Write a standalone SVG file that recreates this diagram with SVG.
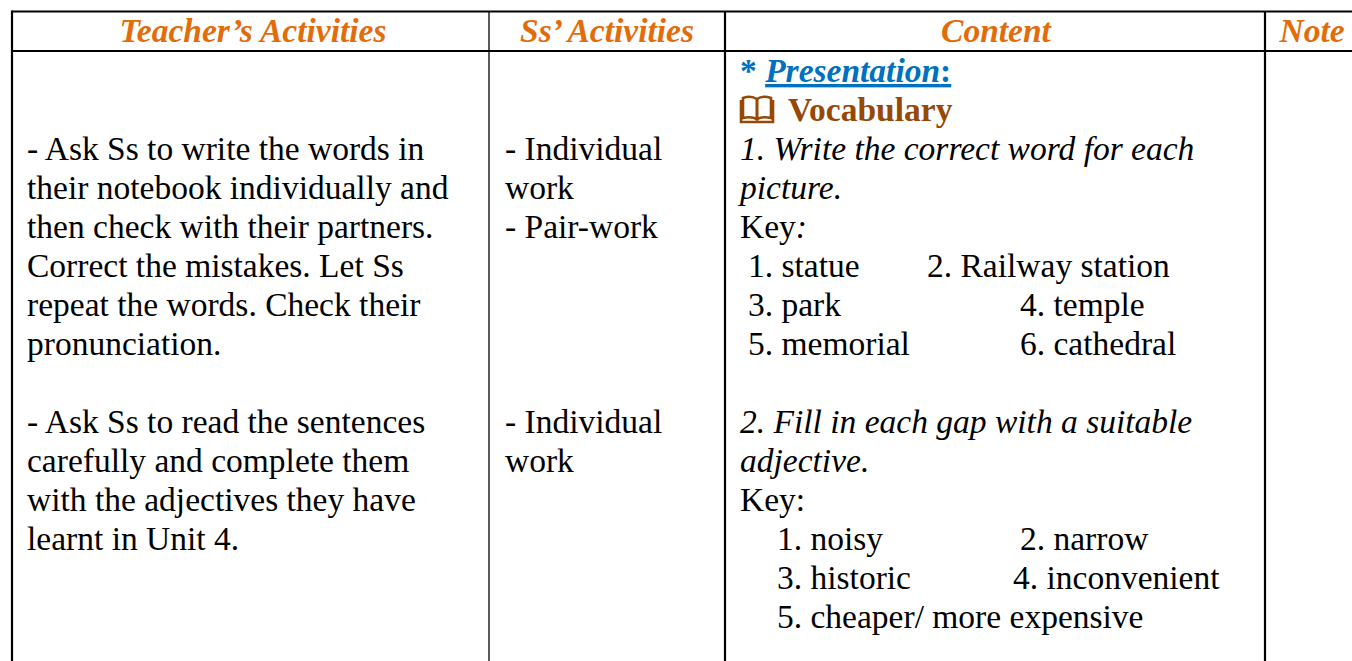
<svg xmlns="http://www.w3.org/2000/svg" width="1352" height="661" viewBox="0 0 1352 661">
<style>
.t{font-family:"Liberation Serif","Times New Roman",serif;font-size:33.5px;fill:#000}
.i{font-style:italic}
.h{font-family:"Liberation Serif","Times New Roman",serif;font-size:33.5px;font-weight:bold;font-style:italic;fill:#E36C0A;text-anchor:middle}
.b{stroke:#000;stroke-width:2.2;fill:none}
.bt{stroke:#000;stroke-width:1.3;fill:none}
</style>
<rect width="1352" height="661" fill="#fff"/>
<g id="grid">
<line class="b" x1="12" y1="11.5" x2="1352" y2="11.5"/>
<line class="b" x1="12" y1="51" x2="1352" y2="51"/>
<line class="b" x1="12" y1="10.5" x2="12" y2="661"/>
<line class="bt" x1="489" y1="11" x2="489" y2="661"/>
<line class="b" x1="725" y1="11" x2="725" y2="661"/>
<line class="b" x1="1265" y1="11" x2="1265" y2="661"/>
</g>
<g id="header">
<text class="h" x="253" y="42">Teacher’s Activities</text>
<text class="h" x="607" y="42">Ss’ Activities</text>
<text class="h" x="996" y="42">Content</text>
<text class="h" x="1312" y="42">Note</text>
</g>
<g id="teacher">
<text class="t" x="27" y="160">- Ask Ss to write the words in</text>
<text class="t" x="27" y="199">their notebook individually and</text>
<text class="t" x="27" y="238">then check with their partners.</text>
<text class="t" x="27" y="277">Correct the mistakes. Let Ss</text>
<text class="t" x="27" y="316">repeat the words. Check their</text>
<text class="t" x="27" y="355">pronunciation.</text>
<text class="t" x="27" y="433">- Ask Ss to read the sentences</text>
<text class="t" x="27" y="472">carefully and complete them</text>
<text class="t" x="27" y="511">with the adjectives they have</text>
<text class="t" x="27" y="550">learnt in Unit 4.</text>
</g>
<g id="students">
<text class="t" x="505" y="160">- Individual</text>
<text class="t" x="505" y="199">work</text>
<text class="t" x="505" y="238">- Pair-work</text>
<text class="t" x="505" y="433">- Individual</text>
<text class="t" x="505" y="472">work</text>
</g>
<g id="content">
<text class="t" x="740" y="82" style="fill:#0070C0;font-weight:bold">* <tspan font-style="italic" text-decoration="underline">Presentation</tspan><tspan text-decoration="underline">:</tspan></text>
<g id="book-icon" fill="none" stroke="#974806" stroke-width="2.6">
<path d="M743 98 Q751 95 757 99 L757 119 Q751 116 743 118 Z"/>
<path d="M771 98 Q763 95 757 99 L757 119 Q763 116 771 118 Z"/>
<path d="M741 100 L741 122 L773 122 L773 100"/>
</g>
<text class="t" x="788" y="121" style="fill:#974806;font-weight:bold">Vocabulary</text>
<text class="t i" x="740" y="160">1. Write the correct word for each</text>
<text class="t i" x="740" y="199">picture.</text>
<text class="t" x="740" y="238">Key<tspan font-style="italic">:</tspan></text>
<text class="t" x="748" y="277">1. statue</text>
<text class="t" x="927" y="277">2. Railway station</text>
<text class="t" x="748" y="316">3. park</text>
<text class="t" x="1020" y="316">4. temple</text>
<text class="t" x="748" y="355">5. memorial</text>
<text class="t" x="1020" y="355">6. cathedral</text>
<text class="t i" x="740" y="433">2. Fill in each gap with a suitable</text>
<text class="t i" x="740" y="472">adjective.</text>
<text class="t" x="740" y="511">Key:</text>
<text class="t" x="777" y="550">1. noisy</text>
<text class="t" x="1020" y="550">2. narrow</text>
<text class="t" x="777" y="589">3. historic</text>
<text class="t" x="1013" y="589">4. inconvenient</text>
<text class="t" x="777" y="628">5. cheaper/ more expensive</text>
</g>
<g id="note"></g>
</svg>
